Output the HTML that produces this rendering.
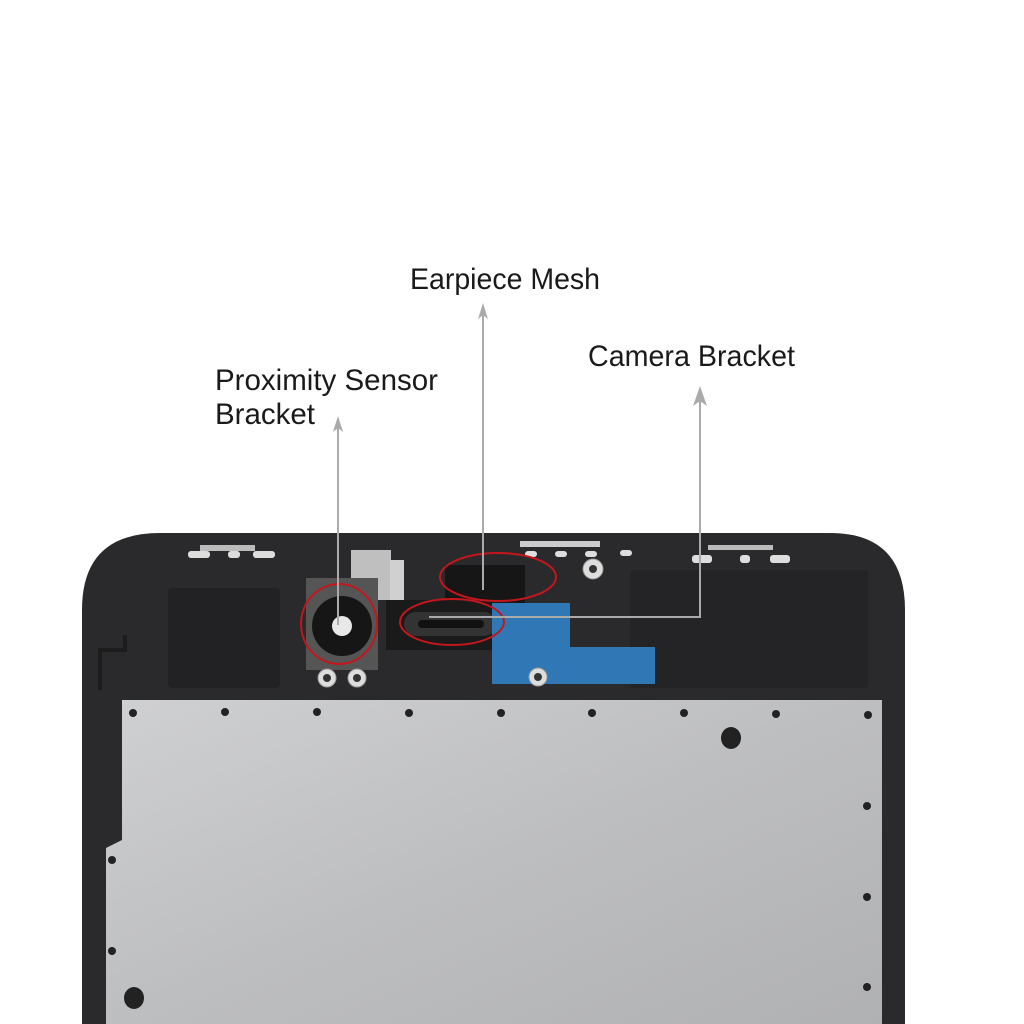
<!DOCTYPE html>
<html><head><style>
html,body{margin:0;padding:0;background:#fff;width:1024px;height:1024px;overflow:hidden}
svg{display:block}
text{font-family:"Liberation Sans",sans-serif;fill:#1a1a1a}
</style></head><body>
<svg width="1024" height="1024" viewBox="0 0 1024 1024" xmlns="http://www.w3.org/2000/svg">
<defs>
<linearGradient id="pl" x1="0" y1="0" x2="1" y2="1">
<stop offset="0" stop-color="#cfd0d2"/><stop offset="0.5" stop-color="#bdbec0"/><stop offset="1" stop-color="#b0b1b3"/>
</linearGradient>
</defs>
<rect width="1024" height="1024" fill="#fff"/>
<path d="M82 1024 L82 610 Q82 533 160 533 L830 533 Q905 533 905 610 L905 1024 Z" fill="#2a2a2c"/>
<rect x="168" y="588" width="112" height="100" fill="#222224" rx="4"/>
<rect x="630" y="570" width="238" height="118" fill="#242426" rx="4"/>
<path d="M100 690 L100 650 L125 650 L125 635" stroke="#1c1c1c" stroke-width="4" fill="none"/>
<rect x="200" y="545" width="55" height="6" fill="#bbb"/>
<rect x="188" y="551" width="22" height="7" rx="3" fill="#ddd"/>
<rect x="228" y="551" width="12" height="7" rx="3" fill="#ddd"/>
<rect x="253" y="551" width="22" height="7" rx="3" fill="#ddd"/>
<rect x="520" y="541" width="80" height="6" fill="#ccc"/>
<rect x="525" y="551" width="12" height="6" rx="3" fill="#ddd"/>
<rect x="555" y="551" width="12" height="6" rx="3" fill="#ddd"/>
<rect x="585" y="551" width="12" height="6" rx="3" fill="#ddd"/>
<rect x="620" y="550" width="12" height="6" rx="3" fill="#ddd"/>
<rect x="708" y="545" width="65" height="5" fill="#bbb"/>
<rect x="692" y="555" width="20" height="8" rx="3" fill="#ddd"/>
<rect x="740" y="555" width="10" height="8" rx="3" fill="#ddd"/>
<rect x="770" y="555" width="20" height="8" rx="3" fill="#ddd"/>
<rect x="351" y="550" width="40" height="50" fill="#bfbfbf"/>
<rect x="390" y="560" width="14" height="60" fill="#d0d0d0"/>
<rect x="445" y="565" width="80" height="40" fill="#161616"/>
<rect x="306" y="578" width="72" height="92" fill="#555"/>
<circle cx="342" cy="626" r="30" fill="#161616"/>
<circle cx="342" cy="626" r="10" fill="#e8e8e8"/>
<rect x="386" y="600" width="130" height="50" fill="#1a1a1a"/>
<rect x="404" y="612" width="92" height="24" rx="12" fill="#333"/>
<rect x="418" y="620" width="66" height="8" rx="4" fill="#111"/>
<path d="M492 603 L570 603 L570 647 L655 647 L655 684 L492 684 Z" fill="#2f78b5"/>
<g fill="#ddd" stroke="#999"><circle cx="593" cy="569" r="10"/><circle cx="327" cy="678" r="9"/><circle cx="357" cy="678" r="9"/><circle cx="538" cy="677" r="9"/></g>
<g fill="#333"><circle cx="593" cy="569" r="4"/><circle cx="327" cy="678" r="4"/><circle cx="357" cy="678" r="4"/><circle cx="538" cy="677" r="4"/></g>
<path d="M122 700 L882 700 L882 1024 L106 1024 L106 848 L122 840 Z" fill="url(#pl)"/>
<g fill="#222">
<circle cx="133" cy="713" r="4"/><circle cx="225" cy="712" r="4"/><circle cx="317" cy="712" r="4"/><circle cx="409" cy="713" r="4"/><circle cx="501" cy="713" r="4"/><circle cx="592" cy="713" r="4"/><circle cx="684" cy="713" r="4"/><circle cx="776" cy="714" r="4"/><circle cx="868" cy="715" r="4"/>
<ellipse cx="731" cy="738" rx="10" ry="11"/>
<circle cx="867" cy="806" r="4"/><circle cx="112" cy="860" r="4"/><circle cx="867" cy="897" r="4"/><circle cx="112" cy="951" r="4"/><circle cx="867" cy="987" r="4"/>
<ellipse cx="134" cy="998" rx="10" ry="11"/>
</g>
<g fill="none" stroke="#c4161c" stroke-width="2">
<ellipse cx="339" cy="624" rx="38" ry="40"/>
<ellipse cx="498" cy="577" rx="58" ry="24"/>
<ellipse cx="452" cy="622" rx="52" ry="23"/>
</g>
<g stroke="#aaa" stroke-width="2" fill="none">
<line x1="338" y1="425" x2="338" y2="625"/>
<line x1="483" y1="312" x2="483" y2="590"/>
<polyline points="700,395 700,617 429,617"/>
</g>
<g fill="#aaa">
<polygon points="338,416 333,432 338,428 343,432"/>
<polygon points="483,303 478,319 483,315 488,319"/>
<polygon points="700,386 693,406 700,401 707,406"/>
</g>
<text x="410" y="289" font-size="30" textLength="190" lengthAdjust="spacingAndGlyphs">Earpiece Mesh</text>
<text x="588" y="366" font-size="30" textLength="207" lengthAdjust="spacingAndGlyphs">Camera Bracket</text>
<text x="215" y="390" font-size="30" textLength="223" lengthAdjust="spacingAndGlyphs">Proximity Sensor</text>
<text x="215" y="424" font-size="30" textLength="100" lengthAdjust="spacingAndGlyphs">Bracket</text>
</svg>
</body></html>
